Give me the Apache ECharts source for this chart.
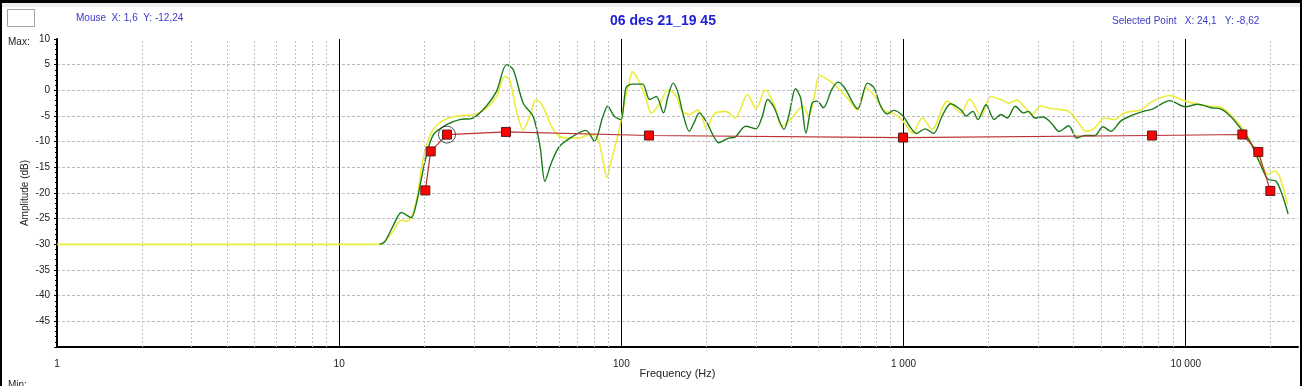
<!DOCTYPE html>
<html><head><meta charset="utf-8">
<script src="https://cdn.jsdelivr.net/npm/echarts@6/dist/echarts.min.js"></script>
<style>
html,body{margin:0;padding:0;background:#fff;}
#chart{width:1302px;height:386px;}
</style></head><body>
<div id="chart"></div>
<script>
// ---- data ----
const xTickLabels = [1, 10, 100, 1000, 10000];
const minorGridFreq = [2,3,4,5,6,7,8,9,20,30,40,50,60,70,80,90,200,300,400,500,600,700,800,900,2000,3000,4000,5000,6000,7000,8000,9000,20000];

const yellowFreq = [1, 13.9, 15.5, 16.6, 17.4, 18.0, 18.8, 19.8, 21.2, 23.0, 26.1, 29.8, 33.2, 36.1, 38.6, 40.2, 42.4, 44.9, 47.3, 49.9, 52.7, 56.5, 60.4, 65.4, 71.0, 77.0, 82.3, 86, 88.8, 91.7, 97.7, 101.9, 106.4, 109.6, 116.3, 122.6, 127.6, 136, 147, 157, 163, 174, 187, 201, 212, 234, 253, 280, 300, 324, 348, 371, 402, 440, 461, 483, 504, 539, 577, 626, 686, 738, 798, 860, 913, 996, 1076, 1166, 1261, 1431, 1597, 1714, 1886, 2035, 2215, 2360, 2520, 2700, 2850, 3060, 3370, 3850, 4160, 4450, 4760, 5160, 5590, 6050, 6940, 7460, 8070, 8760, 9960, 11060, 12280, 13290, 14380, 16000, 17290, 18720, 19530, 20620, 21480, 22940];
const yellowDb = [-30, -30, -27.5, -25.3, -25.5, -24.8, -21.5, -13.5, -8.3, -6.1, -5.0, -4.8, -3.5, -1.2, 2.7, 2.0, -3.8, -7.7, -5.1, -1.8, -3.1, -7.0, -9.0, -9.3, -9.3, -8.6, -9.3, -13.5, -17.0, -14.1, -8.3, -3.1, 1.4, 3.6, 1.4, -1.8, -4.4, -2.8, 0.1, -1.2, -3.8, -4.7, -3.8, -7.6, -4.7, -4.1, -5.4, -0.8, -3.6, 0.1, -2.8, -7.0, -5.4, -3.1, -5.0, -1.2, 2.9, 2.1, 0.8, -1.2, -3.8, 0.5, -1.5, -4.1, -4.4, -6.0, -8.3, -5.4, -7.6, -2.1, -4.4, -1.7, -5.0, -1.2, -1.8, -2.5, -1.9, -3.4, -4.7, -3.1, -3.6, -4.1, -6.3, -8.0, -7.3, -5.4, -5.7, -4.4, -3.8, -2.5, -1.5, -1.0, -2.1, -2.7, -3.1, -3.3, -4.7, -7.6, -10.9, -14.8, -16.4, -15.7, -16.7, -22.2];

const greenFreq = [13.9, 14.5, 15.5, 16.6, 17.2, 18.0, 18.8, 20.2, 21.6, 24.0, 26.7, 29.8, 33.2, 36.1, 39.2, 41.4, 44.9, 48.7, 51.5, 53.6, 56.5, 60.4, 67.1, 74.9, 80.3, 86, 89.5, 94.5, 99.7, 103.9, 109.6, 118.9, 126, 133, 141, 146.3, 152.6, 158.8, 165, 174, 181, 188.8, 201, 212, 221, 240, 253, 276, 300, 316, 330, 348, 377, 393, 414, 432, 451, 474, 494, 520, 556, 586, 618, 688, 745, 786, 830, 875, 922, 996, 1051, 1110, 1192, 1278, 1370, 1470, 1597, 1667, 1760, 1835, 1960, 2095, 2215, 2330, 2490, 2660, 2770, 2920, 3120, 3330, 3560, 3850, 4110, 4390, 4760, 5090, 5430, 5880, 6370, 7080, 7660, 8300, 8760, 9960, 11060, 12280, 13290, 14380, 15590, 16870, 18280, 19530, 20900, 22050, 23060];
const greenDb = [-30, -29.5, -26.5, -23.8, -24.2, -24.8, -21.9, -13.5, -8.6, -6.7, -5.7, -5.4, -3.1, -0.2, 5.0, 4.0, -2.5, -5.1, -10.9, -17.7, -14.1, -10.9, -9.0, -7.8, -9.9, -5.1, -3.1, -5.1, -5.7, 0.5, 1.2, 1.2, -1.8, -1.2, -4.4, -1.2, 1.4, -0.5, -4.4, -8.0, -6.3, -4.4, -6.3, -8.9, -10.2, -9.3, -9.1, -7.0, -7.5, -5.0, -1.8, -3.4, -7.6, -4.7, 0.3, -1.5, -8.3, -2.5, -2.1, -3.4, 0.1, 1.6, 0.5, -3.6, 1.4, 0.5, -3.1, -4.6, -3.9, -5.0, -7.0, -8.4, -7.5, -8.4, -5.0, -2.6, -3.8, -5.0, -4.1, -5.7, -2.8, -5.7, -4.7, -5.4, -3.1, -4.4, -4.1, -5.4, -5.2, -6.3, -8.0, -6.9, -9.3, -8.8, -8.8, -7.1, -8.0, -6.0, -5.0, -4.1, -3.6, -2.5, -2.0, -3.2, -2.7, -3.4, -3.6, -5.0, -7.3, -9.9, -14.1, -17.3, -17.7, -20.6, -24.1];

const targetFreq = [20.2, 21.1, 24.1, 39.0, 125.3, 996, 7600, 15880, 18090, 19950];
const targetDb = [-19.5, -11.9, -8.62, -8.1, -8.8, -9.2, -8.8, -8.6, -12.0, -19.6];

const selectedFreq = [24.1];
const selectedDb = [-8.62];

const pairs = (a, b) => a.map((v, i) => [v, b[i]]);
const FONT = '"Liberation Sans", Arial, sans-serif';

function fmtX(v) {
  const l = Math.log10(v);
  if (Math.abs(l - Math.round(l)) > 1e-6) return '';
  const r = Math.round(v);
  if (!xTickLabels.includes(r)) return '';
  return String(r).replace(/\B(?=(\d{3})+(?!\d))/g, ' ');
}

const chart = echarts.init(document.getElementById('chart'), null, {renderer: 'canvas'});
chart.setOption({
  animation: false,
  backgroundColor: '#fff',
  grid: {left: 57, right: 4, top: 39, bottom: 39, containLabel: false, outerBoundsMode: 'none'},
  xAxis: {
    type: 'log', logBase: 10, min: 1, max: 25000,
    axisLine: {show: true, onZero: false, lineStyle: {color: '#000', width: 2}},
    axisTick: {show: false},
    axisLabel: {formatter: fmtX, margin: 12, fontSize: 10, color: '#222', fontFamily: FONT, showMaxLabel: false},
    splitLine: {show: true, showMinLine: false, showMaxLine: false, lineStyle: {color: '#000', width: 1, type: 'solid'}},
    name: 'Frequency (Hz)', nameLocation: 'middle', nameGap: 21, nameMoveOverlap: false,
    nameTextStyle: {fontSize: 11, color: '#222', fontFamily: FONT}
  },
  yAxis: {
    type: 'value', min: -50, max: 10, interval: 5,
    axisLine: {show: true, onZero: false, lineStyle: {color: '#000', width: 2}},
    axisTick: {show: true, length: 3, lineStyle: {color: '#000'}},
    minorTick: {show: true, splitNumber: 5, length: 2, lineStyle: {color: '#000'}},
    axisLabel: {formatter: v => (v === -50 ? '' : String(v)), margin: 7, fontSize: 10, color: '#222', fontFamily: FONT},
    splitLine: {show: true, showMinLine: false, showMaxLine: false, lineStyle: {color: '#bcbcbc', type: [3, 2], width: 1}},
    name: 'Amplitude (dB)', nameLocation: 'middle', nameGap: 27, nameRotate: 90, nameMoveOverlap: false,
    nameTextStyle: {fontSize: 10, color: '#222', fontFamily: FONT}
  },
  graphic: [
    {type: 'rect', shape: {x: 0, y: 0, width: 1302, height: 3}, style: {fill: '#000'}, z: 100},
    {type: 'rect', shape: {x: 0, y: 3, width: 1302, height: 4}, style: {fill: '#efefef'}, z: 100},
    {type: 'rect', shape: {x: 0, y: 0, width: 2, height: 386}, style: {fill: '#000'}, z: 100},
    {type: 'rect', shape: {x: 1300, y: 0, width: 2, height: 386}, style: {fill: '#000'}, z: 100},
    {type: 'rect', shape: {x: 7.5, y: 9.5, width: 27, height: 17}, style: {fill: '#fff', stroke: '#a0a0a0', lineWidth: 1}, z: 100},
    {type: 'text', x: 76, y: 18, style: {text: 'Mouse  X: 1,6  Y: -12,24', font: '10px ' + FONT, fill: '#3a3ac8', verticalAlign: 'middle'}, z: 100},
    {type: 'text', x: 663, y: 21, style: {text: '06 des 21_19 45', font: 'bold 14px ' + FONT, fill: '#2020d4', align: 'center', verticalAlign: 'middle'}, z: 100},
    {type: 'text', x: 1112, y: 21, style: {text: 'Selected Point   X: 24,1   Y: -8,62', font: '10px ' + FONT, fill: '#3a3ac8', verticalAlign: 'middle'}, z: 100},
    {type: 'text', x: 8, y: 42, style: {text: 'Max:', font: '10px ' + FONT, fill: '#222', verticalAlign: 'middle'}, z: 100},
    {type: 'text', x: 8, y: 385, style: {text: 'Min:', font: '10px ' + FONT, fill: '#222', verticalAlign: 'middle'}, z: 100}
  ],
  series: [
    {
      name: 'grid', type: 'line', data: [], silent: true, z: 1,
      markLine: {
        silent: true, symbol: ['none', 'none'], label: {show: false}, animation: false,
        lineStyle: {color: '#c4c4c4', type: [2, 2], width: 1},
        emphasis: {disabled: true},
        data: minorGridFreq.map(f => ({xAxis: f}))
      }
    },
    {
      name: 'yellow', type: 'line', data: pairs(yellowFreq, yellowDb), showSymbol: false, smooth: 0.3, z: 3,
      lineStyle: {color: '#ecec3a', width: 1.6}
    },
    {
      name: 'green', type: 'line', data: pairs(greenFreq, greenDb), showSymbol: false, smooth: 0.3, z: 4,
      lineStyle: {color: '#1c7a1c', width: 1.4}
    },
    {
      name: 'target', type: 'line', data: pairs(targetFreq, targetDb), z: 5,
      symbol: 'rect', symbolSize: 9, showSymbol: true,
      itemStyle: {color: '#ff0000', borderColor: '#5a1a1a', borderWidth: 1},
      lineStyle: {color: '#b83232', width: 1.2}
    },
    {
      name: 'selected', type: 'scatter', data: pairs(selectedFreq, selectedDb), z: 6,
      symbol: 'circle', symbolSize: 17,
      itemStyle: {color: 'rgba(0,0,0,0)', borderColor: '#222', borderWidth: 1}
    }
  ]
});
</script>
</body></html>
